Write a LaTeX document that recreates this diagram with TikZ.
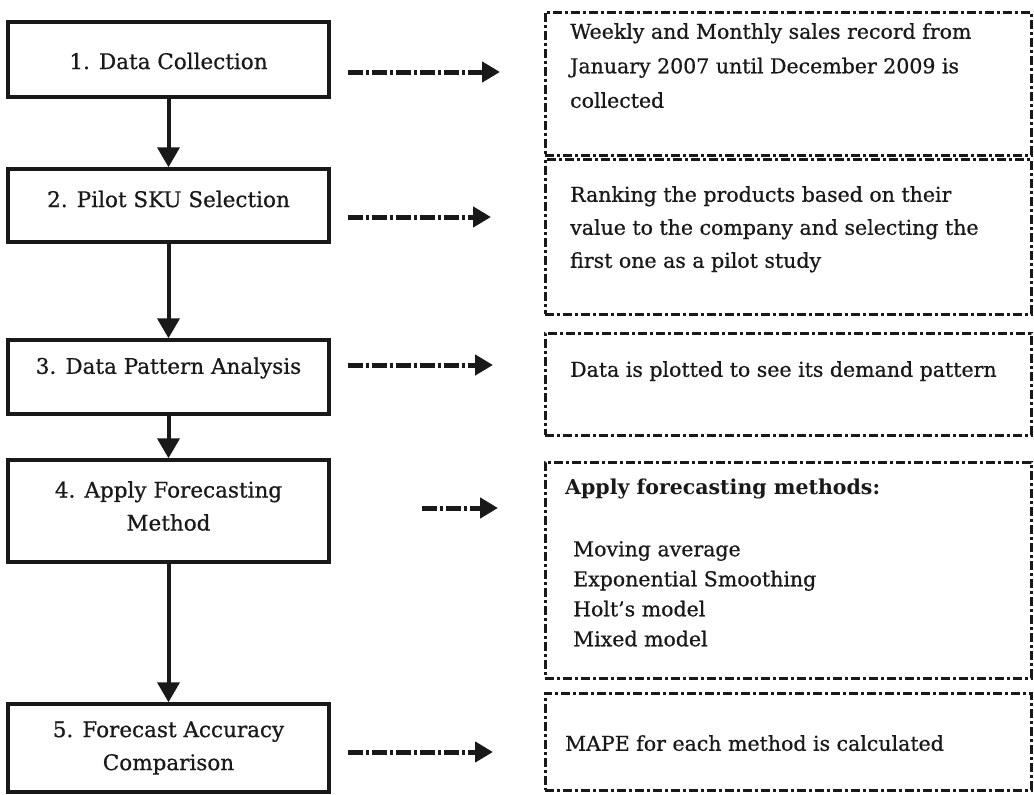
\documentclass[tikz,border=0pt]{standalone}
\usepackage{fontspec}
\setmainfont[FakeBold=0.7]{DejaVu Serif}
\newfontfamily\headfont{DejaVu Serif Bold}
\usetikzlibrary{arrows.meta}
\begin{document}
\begin{tikzpicture}[x=1pt,y=-1pt,
  stepbox/.style={draw=black!90,line width=3.5pt,minimum width=321pt,inner sep=0pt,fill=none},
  steptext/.style={align=center,inner sep=0pt,font=\fontsize{21.5}{33}\selectfont,text=black!90},
  infobox/.style={draw=black!90,line width=3pt,dash pattern=on 9pt off 3pt on 3pt off 3pt,inner sep=0pt},
  infotext/.style={align=left,anchor=north west,inner sep=0pt,text=black!90},
  downarrow/.style={draw=black!90,line width=4pt,-{Triangle[length=20pt,width=22pt]}},
  sidearrow/.style={draw=black!90,line width=5pt,dash pattern=on 15pt off 3pt on 3pt off 3pt,-{Triangle[length=18pt,width=20pt]}}
]
\useasboundingbox (0,0) rectangle (1034,795);
% left step boxes
\node[stepbox,minimum height=75pt] (b1) at (168.5,59.5) {};
\node[stepbox,minimum height=73pt] (b2) at (168.5,205.5) {};
\node[stepbox,minimum height=74pt] (b3) at (168.5,377) {};
\node[stepbox,minimum height=102pt] (b4) at (168.5,511) {};
\node[stepbox,minimum height=88pt] (b5) at (168.5,748) {};
\node[steptext] (t1) at (168.5,61) {1. Data Collection};
\node[steptext] (t2) at (168.5,199) {2. Pilot SKU Selection};
\node[steptext] (t3) at (168.5,368) {3. Data Pattern Analysis};
\node[steptext] (t4) at (168.5,506) {4. Apply Forecasting\\Method};
\node[steptext] (t5) at (168.5,748) {5. Forecast Accuracy\\Comparison};
% vertical arrows
\draw[downarrow] (b1.south) -- (b2.north);
\draw[downarrow] (b2.south) -- (b3.north);
\draw[downarrow] (b3.south) -- (b4.north);
\draw[downarrow] (b4.south) -- (b5.north);
% right info boxes
\node[infobox,minimum width=486pt,minimum height=143pt] (r1) at (788,83.5) {};
\node[infobox,minimum width=486pt,minimum height=155pt] (r2) at (788,236.5) {};
\node[infobox,minimum width=486pt,minimum height=102pt] (r3) at (788,384) {};
\node[infobox,minimum width=486pt,minimum height=216pt] (r4) at (788,570) {};
\node[infobox,minimum width=486pt,minimum height=97pt] (r5) at (788,741.5) {};
\node[infotext,font=\fontsize{20.5}{34.5}\selectfont] (i1) at (570,23) {Weekly and Monthly sales record from\\January 2007 until December 2009 is\\collected};
\node[infotext,font=\fontsize{20.5}{33}\selectfont] (i2) at (570,186) {Ranking the products based on their\\value to the company and selecting the\\first one as a pilot study};
\node[infotext,font=\fontsize{20.5}{33}\selectfont] (i3) at (570,361) {Data is plotted to see its demand pattern};
\node[infotext,font=\headfont\fontsize{20.5}{30}\selectfont] (i4a) at (565,479) {Apply forecasting methods:};
\node[infotext,font=\fontsize{20.5}{30}\selectfont] (i4b) at (573,541) {Moving average\\Exponential Smoothing\\Holt's model\\Mixed model};
\node[infotext,font=\fontsize{20.5}{33}\selectfont] (i5) at (565,735) {MAPE for each method is calculated};
% side arrows
\coordinate (s1) at (348,72);  \coordinate (e1) at (500,72);
\coordinate (s2) at (348,217); \coordinate (e2) at (491,217);
\coordinate (s3) at (348,365); \coordinate (e3) at (493,365);
\coordinate (s4) at (422,508); \coordinate (e4) at (498,508);
\coordinate (s5) at (348,752); \coordinate (e5) at (493,752);
\draw[sidearrow] (s1) -- (e1);
\draw[sidearrow] (s2) -- (e2);
\draw[sidearrow] (s3) -- (e3);
\draw[sidearrow] (s4) -- (e4);
\draw[sidearrow] (s5) -- (e5);
\end{tikzpicture}
\end{document}
